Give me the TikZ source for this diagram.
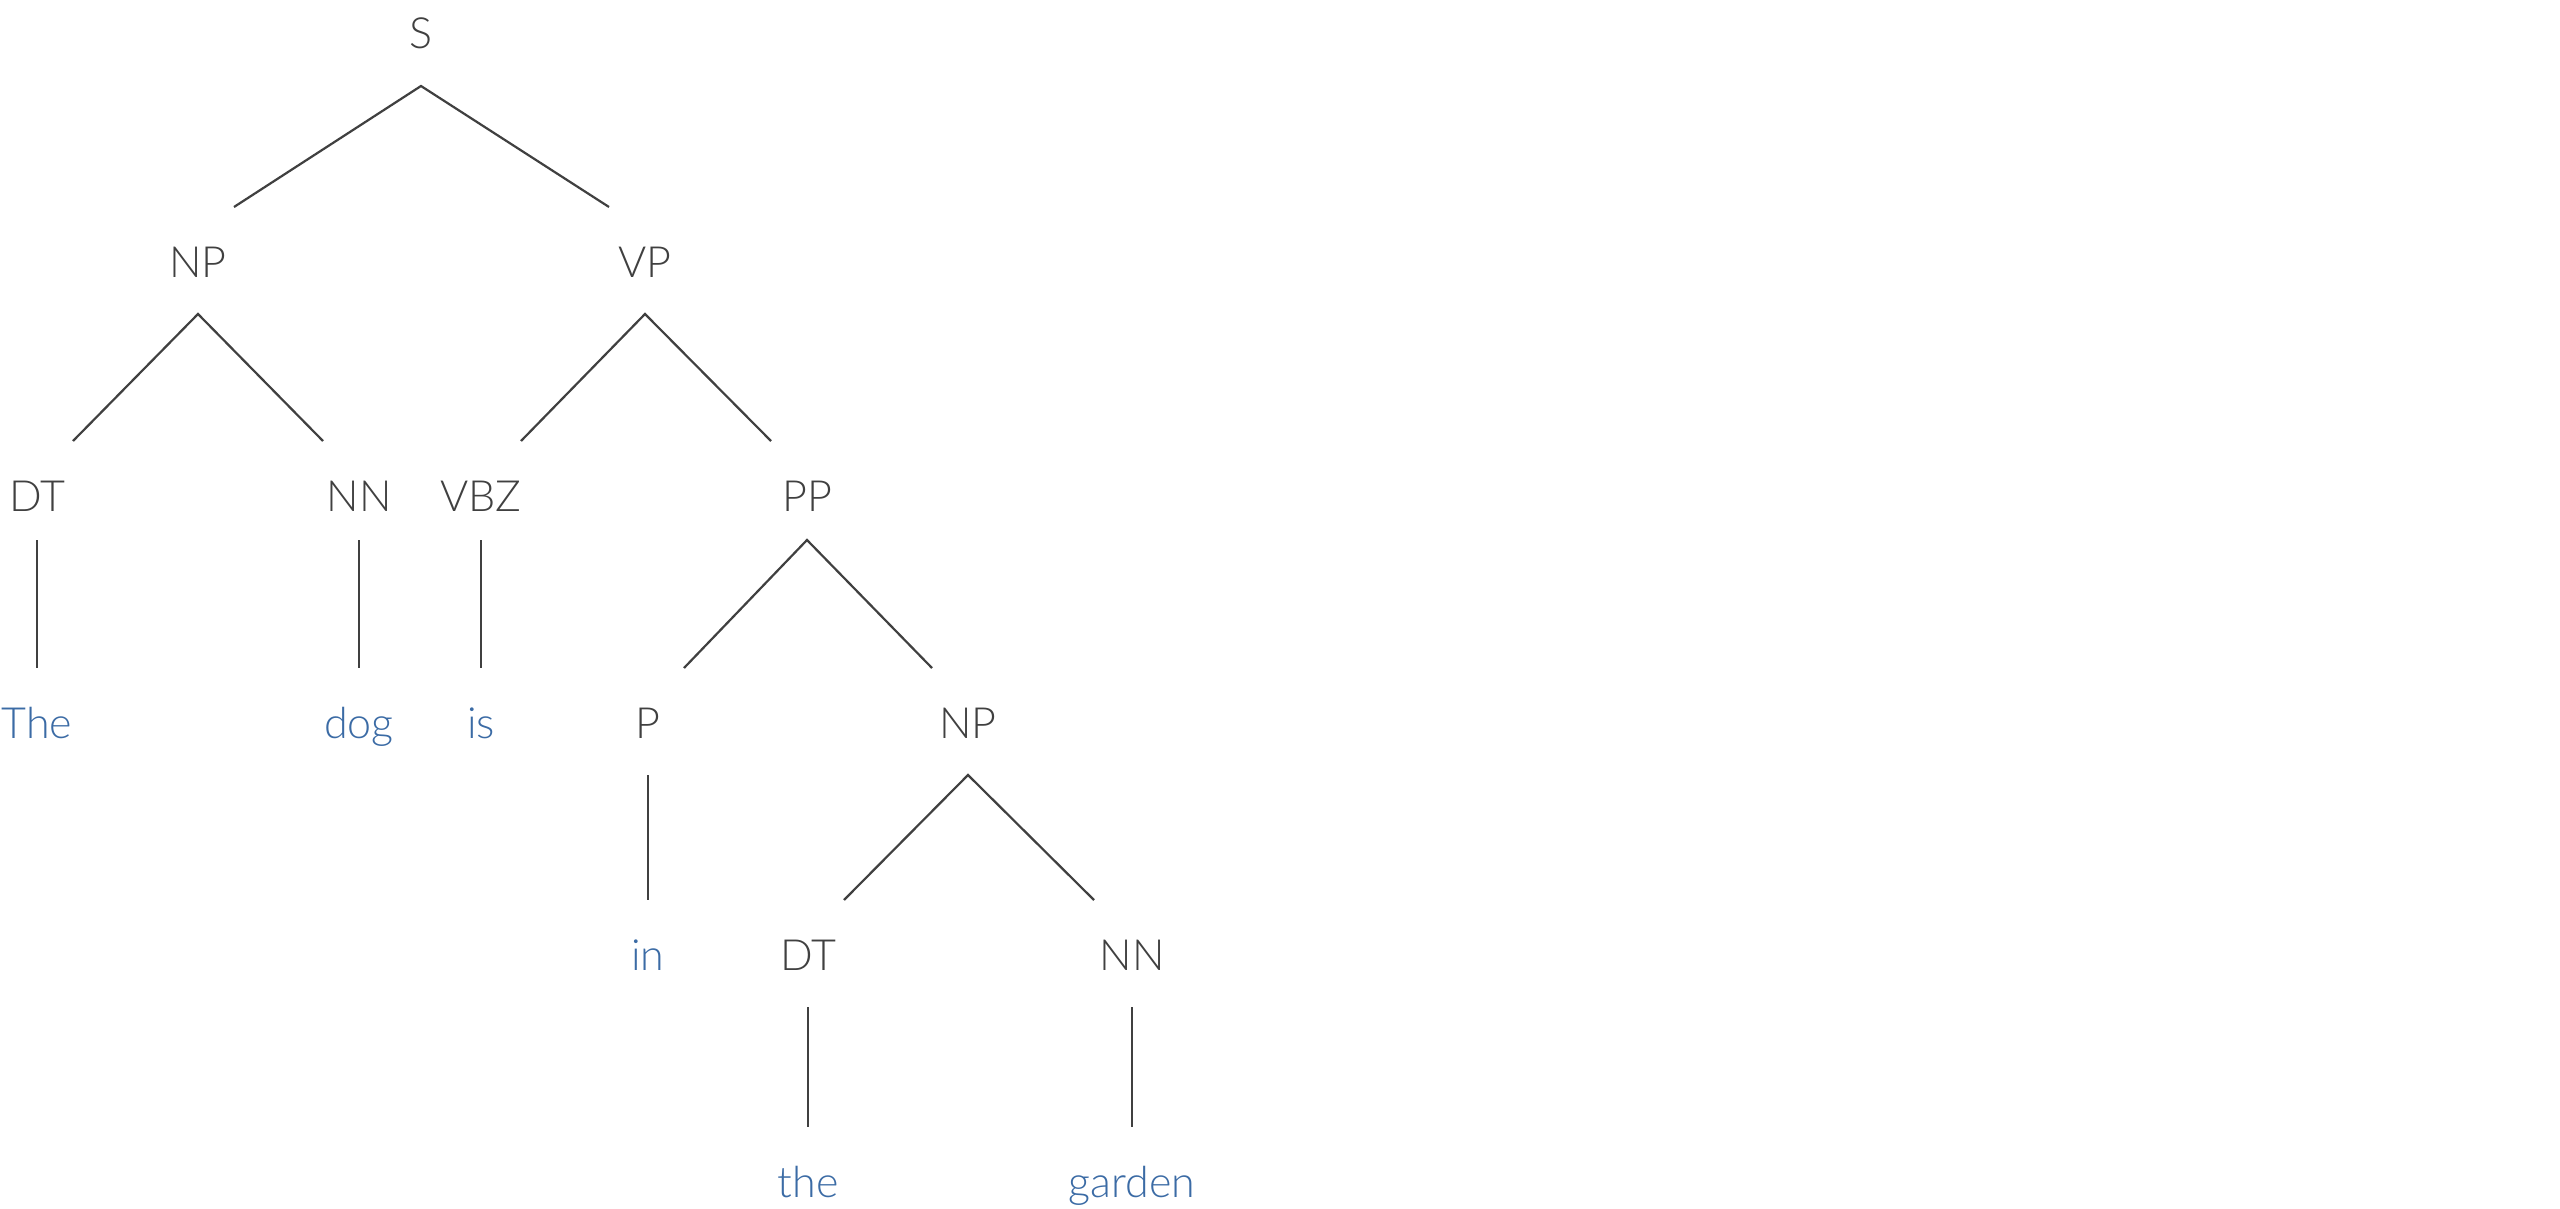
\documentclass[tikz,border=0pt]{standalone}
\usepackage{fontspec}
\setmainfont{Lato}[UprightFont=* Light]
\definecolor{ink}{HTML}{404040}
\definecolor{word}{HTML}{3B6BA5}
\begin{document}
\begin{tikzpicture}[x=1pt,y=-1pt,
  lab/.style={anchor=base,inner sep=0pt,text=ink,font=\fontsize{43}{50}\selectfont},
  wd/.style={anchor=base,inner sep=0pt,text=word,font=\fontsize{43}{50}\selectfont},
  edge/.style={draw=ink,line width=2.2pt}]
\useasboundingbox (0,0) rectangle (2560,1209);
\fill[white] (0,0) rectangle (2560,1209);
% row baselines: 49, 277, 511, 738, 970, 1197
\node[lab] (S) at (421,49) {S};
\node[lab] (NPa) at (198,277) {NP};
\node[lab] (VP) at (645,277) {VP};
\node[lab] (DTa) at (37,511) {DT};
\node[lab] (NNa) at (359,511) {NN};
\node[lab] (VBZ) at (481,511) {VBZ};
\node[lab] (PP) at (807,511) {PP};
\node[wd] (The) at (37,738) {The};
\node[wd] (dog) at (359,738) {dog};
\node[wd] (is) at (481,738) {is};
\node[lab] (P) at (648,738) {P};
\node[lab] (NPb) at (968,738) {NP};
\node[wd] (in) at (648,970) {in};
\node[lab] (DTb) at (808,970) {DT};
\node[lab] (NNb) at (1132,970) {NN};
\node[wd] (the) at (808,1197) {the};
\node[wd] (garden) at (1132,1197) {garden};
% branching edges
\draw[edge] ([xshift=36pt,yshift=70pt]NPa.base) -- ([yshift=-37pt]S.base) -- ([xshift=-36pt,yshift=70pt]VP.base);
\draw[edge] ([xshift=36pt,yshift=70pt]DTa.base) -- ([yshift=-37pt]NPa.base) -- ([xshift=-36pt,yshift=70pt]NNa.base);
\draw[edge] ([xshift=40pt,yshift=70pt]VBZ.base) -- ([yshift=-37pt]VP.base) -- ([xshift=-36pt,yshift=70pt]PP.base);
\draw[edge] ([xshift=36pt,yshift=70pt]P.base) -- ([yshift=-29pt]PP.base) -- ([xshift=-36pt,yshift=70pt]NPb.base);
\draw[edge] ([xshift=36pt,yshift=70pt]DTb.base) -- ([yshift=-37pt]NPb.base) -- ([xshift=-38pt,yshift=70pt]NNb.base);
% unary edges
\draw[edge] ([yshift=-29pt]DTa.base) -- ([yshift=70pt]The.base);
\draw[edge] ([yshift=-29pt]NNa.base) -- ([yshift=70pt]dog.base);
\draw[edge] ([yshift=-29pt]VBZ.base) -- ([yshift=70pt]is.base);
\draw[edge] ([yshift=-37pt]P.base) -- ([yshift=70pt]in.base);
\draw[edge] ([yshift=-37pt]DTb.base) -- ([yshift=70pt]the.base);
\draw[edge] ([yshift=-37pt]NNb.base) -- ([yshift=70pt]garden.base);
\end{tikzpicture}
\end{document}
